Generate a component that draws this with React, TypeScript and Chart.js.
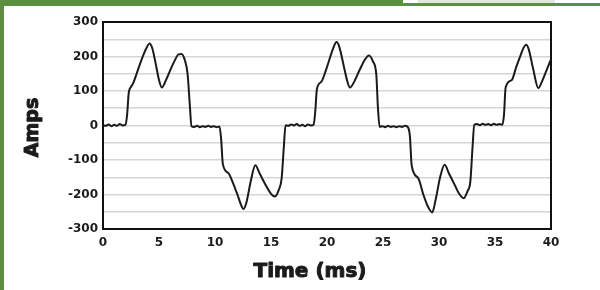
import { useEffect, useRef } from "react";
import { Chart, registerables } from "chart.js";

Chart.register(...registerables);

const times = [
  0, 0.25, 0.5, 0.75, 1.0, 1.25, 1.5, 1.75, 2.0,
  2.15, 2.3, 2.5, 2.7, 3.0, 3.3, 3.6, 3.9, 4.15, 4.4, 4.7, 5.0, 5.25, 5.6, 6.0, 6.4, 6.75, 7.0, 7.3, 7.55, 7.75, 7.9,
  8.15, 8.4, 8.65, 8.9, 9.15, 9.4, 9.65, 9.9, 10.15, 10.4,
  10.55, 10.7, 11.2, 11.6, 12.0, 12.3, 12.55, 12.8, 13.2, 13.6, 14.0, 14.6, 15.0, 15.35, 15.7, 15.95, 16.15, 16.3,
  16.55, 16.8, 17.05, 17.3, 17.55, 17.8, 18.05, 18.3, 18.55, 18.8,
  18.95, 19.1, 19.5, 19.9, 20.3, 20.6, 20.85, 21.1, 21.5, 21.8, 22.05, 22.4, 22.9, 23.4, 23.75, 24.1, 24.4, 24.55, 24.7,
  24.95, 25.2, 25.45, 25.7, 25.95, 26.2, 26.45, 26.7, 26.95, 27.2,
  27.4, 27.56, 28.15, 28.6, 29.0, 29.4, 29.7, 30.1, 30.5, 30.9, 31.4, 31.8, 32.2, 32.55, 32.8, 33.0, 33.15,
  33.4, 33.65, 33.9, 34.15, 34.4, 34.65, 34.9, 35.15, 35.4, 35.65,
  35.8, 35.95, 36.5, 36.9, 37.3, 37.55, 37.77, 38.0, 38.4, 38.87, 39.2, 39.6, 40.0,
];

const amps = [
  1, -1, 3, -2, 2, -1, 4, 0, 2,
  30, 95, 112, 123, 150, 178, 204, 226, 238, 224, 180, 132, 110, 130, 160, 188, 206, 207, 190, 150, 60, -2,
  -4, -1, -5, -2, -4, -1, -4, -2, -5, -3,
  -40, -112, -138, -166, -200, -228, -242, -224, -160, -115, -140, -177, -198, -206, -186, -153, -60, 1,
  -1, 3, 0, 4, -1, 2, -2, 3, 0, 2,
  40, 106, 127, 160, 200, 228, 242, 228, 172, 130, 110, 125, 160, 192, 203, 186, 148, 50, -4,
  -2, -5, -1, -4, -2, -5, -2, -4, -1, -4,
  -30, -116, -153, -200, -234, -252, -215, -150, -114, -140, -172, -198, -211, -190, -162, -60, 2,
  4, 1, 5, 2, 4, 1, 5, 2, 4, 2,
  30, 110, 132, 170, 205, 225, 234, 222, 165, 108, 128, 160, 192,
];

const xTitle = "Time (ms)";
const yTitle = "Amps";

export default function App() {
  const ref = useRef<HTMLCanvasElement>(null);

  useEffect(() => {
    if (!ref.current) return;
    const decor = {
      id: "decor",
      afterDraw(chart: any) {
        const { ctx, chartArea } = chart;
        const { left, right, top, bottom } = chartArea;
        ctx.save();
        ctx.strokeStyle = "#111";
        ctx.lineWidth = 2;
        ctx.strokeRect(left, top, right - left, bottom - top);
        ctx.fillStyle = "#1b1b1b";
        ctx.strokeStyle = "#1b1b1b";
        ctx.lineWidth = 1;
        ctx.lineJoin = "round";
        ctx.textAlign = "center";
        ctx.textBaseline = "middle";
        ctx.font = "bold 20px 'DejaVu Sans'";
        const xx = left + (right - left) * 0.462;
        ctx.fillText(xTitle, xx, bottom + 43);
        ctx.strokeText(xTitle, xx, bottom + 43);
        ctx.translate(33, (top + bottom) / 2 + 2);
        ctx.rotate(-Math.PI / 2);
        ctx.font = "bold 19px 'DejaVu Sans'";
        ctx.fillText(yTitle, 0, 0);
        ctx.strokeText(yTitle, 0, 0);
        ctx.restore();
      },
    };

    const chart = new Chart(ref.current, {
      type: "line",
      data: {
        datasets: [
          {
            data: times.map((t, i) => ({ x: t, y: amps[i] })),
            borderColor: "#1a1a1a",
            borderWidth: 2,
            pointRadius: 0,
            cubicInterpolationMode: "monotone",
            fill: false,
          },
        ],
      },
      options: {
        animation: false,
        responsive: false,
        layout: { padding: { left: 0, top: 22, right: 49, bottom: 0 } },
        plugins: { legend: { display: false }, tooltip: { enabled: false } },
        scales: {
          x: {
            type: "linear",
            min: 0,
            max: 40,
            afterFit: (s: any) => {
              s.height = 61;
            },
            ticks: {
              stepSize: 5,
              autoSkip: false,
              maxRotation: 0,
              padding: 7,
              color: "#1b1b1b",
              font: { family: "'DejaVu Sans'", weight: "bold", size: 12 },
            },
            grid: { display: false, drawTicks: false },
            border: { display: true, color: "#111", width: 2 },
          },
          y: {
            min: -300,
            max: 300,
            afterFit: (s: any) => {
              s.width = 103;
            },
            ticks: {
              stepSize: 50,
              autoSkip: false,
              padding: 5,
              color: "#1b1b1b",
              font: { family: "'DejaVu Sans'", weight: "bold", size: 12 },
              callback: (v: any) => (Number(v) % 100 === 0 ? String(v) : ""),
            },
            grid: { color: "#d6d6d6", lineWidth: 1.5, drawTicks: false },
            border: { display: true, color: "#111", width: 2 },
          },
        },
      },
      plugins: [decor],
    });
    return () => chart.destroy();
  }, []);

  return (
    <div
      style={{
        position: "fixed",
        left: 0,
        top: 0,
        width: 600,
        height: 290,
        background: "#fff",
        overflow: "hidden",
      }}
    >
      <canvas ref={ref} width={600} height={290} style={{ display: "block", position: "absolute", left: 0, top: 0 }} />
      <div style={{ position: "absolute", left: 0, top: 0, width: 4, height: 290, background: "#5c8f3f" }} />
      <div style={{ position: "absolute", left: 0, top: 0, width: 600, height: 6, background: "#5c8f3f" }} />
      <div style={{ position: "absolute", left: 403, top: 0, width: 197, height: 3, background: "#ffffff" }} />
      <div style={{ position: "absolute", left: 418, top: 0, width: 137, height: 3, background: "#e3e8df" }} />
    </div>
  );
}
